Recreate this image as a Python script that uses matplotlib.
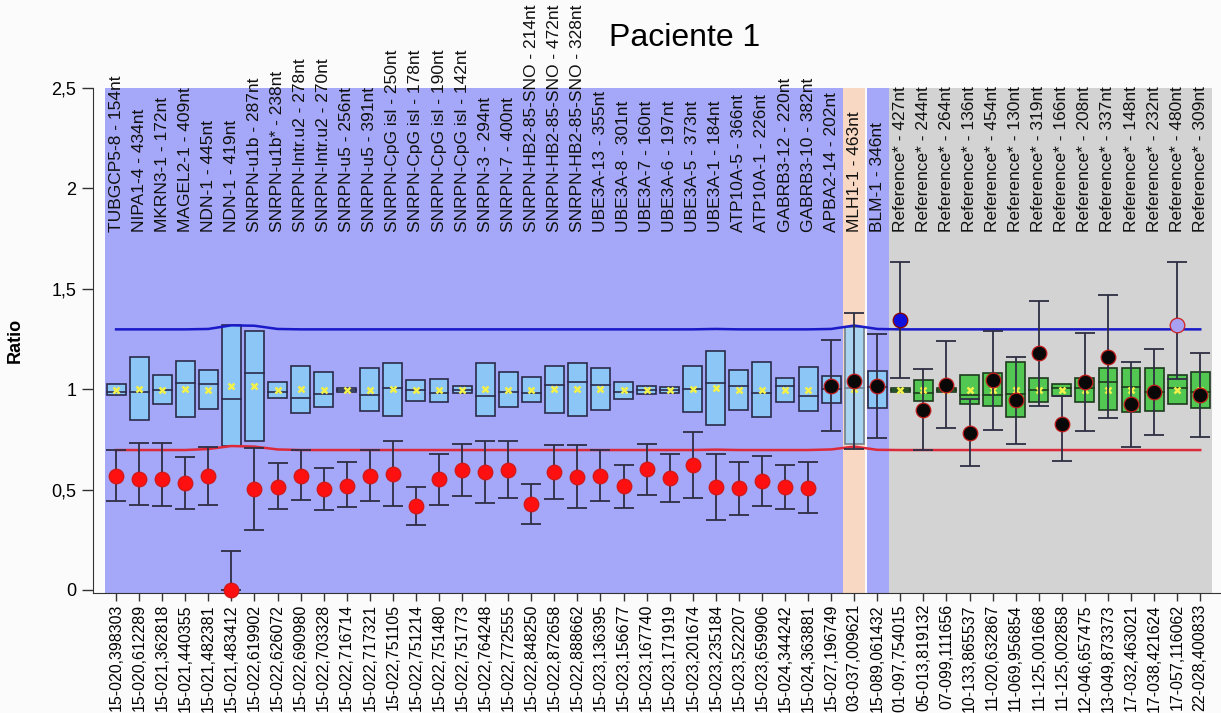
import matplotlib
matplotlib.use("Agg")
import matplotlib.pyplot as plt
from matplotlib.patches import Rectangle

plt.rcParams['font.family'] = ['Liberation Sans', 'DejaVu Sans']

probe_labels = [
    "TUBGCP5-8 - 154nt", "NIPA1-4 - 434nt", "MKRN3-1 - 172nt", "MAGEL2-1 - 409nt",
    "NDN-1 - 445nt", "NDN-1 - 419nt", "SNRPN-u1b - 287nt", "SNRPN-u1b* - 238nt",
    "SNRPN-Intr.u2 - 278nt", "SNRPN-Intr.u2 - 270nt", "SNRPN-u5 - 256nt", "SNRPN-u5 - 391nt",
    "SNRPN-CpG isl - 250nt", "SNRPN-CpG isl - 178nt", "SNRPN-CpG isl - 190nt", "SNRPN-CpG isl - 142nt",
    "SNRPN-3 - 294nt", "SNRPN-7 - 400nt", "SNRPN-HB2-85-SNO - 214nt", "SNRPN-HB2-85-SNO - 472nt",
    "SNRPN-HB2-85-SNO - 328nt", "UBE3A-13 - 355nt", "UBE3A-8 - 301nt", "UBE3A-7 - 160nt",
    "UBE3A-6 - 197nt", "UBE3A-5 - 373nt", "UBE3A-1 - 184nt", "ATP10A-5 - 366nt",
    "ATP10A-1 - 226nt", "GABRB3-12 - 220nt", "GABRB3-10 - 382nt", "APBA2-14 - 202nt",
    "MLH1-1 - 463nt", "BLM-1 - 346nt",
    "Reference* - 427nt", "Reference* - 244nt", "Reference* - 264nt", "Reference* - 136nt",
    "Reference* - 454nt", "Reference* - 130nt", "Reference* - 319nt", "Reference* - 166nt",
    "Reference* - 208nt", "Reference* - 337nt", "Reference* - 148nt", "Reference* - 232nt",
    "Reference* - 480nt", "Reference* - 309nt",
]

position_labels = [
    "15-020,398303", "15-020,612289", "15-021,362818", "15-021,440355", "15-021,482381",
    "15-021,483412", "15-022,619902", "15-022,626072", "15-022,690980", "15-022,703328",
    "15-022,716714", "15-022,717321", "15-022,751105", "15-022,751214", "15-022,751480",
    "15-022,751773", "15-022,764248", "15-022,772555", "15-022,848250", "15-022,872658",
    "15-022,888662", "15-023,136395", "15-023,156677", "15-023,167740", "15-023,171919",
    "15-023,201674", "15-023,235184", "15-023,522207", "15-023,659906", "15-024,344242",
    "15-024,363881", "15-027,196749", "03-037,009621", "15-089,061432", "01-097,754015",
    "05-013,819132", "07-099,111656", "10-133,865537", "11-020,632867", "11-069,956854",
    "11-125,001668", "11-125,002858", "12-046,657475", "13-049,873373", "17-032,463021",
    "17-038,421624", "17-057,116062", "22-028,400833",
]

box_low = [0.970, 0.845, 0.926, 0.861, 0.900, 0.719, 0.742, 0.956, 0.881, 0.911,
           0.988, 0.890, 0.867, 0.943, 0.938, 0.979, 0.867, 0.911, 0.935, 0.880,
           0.868, 0.895, 0.951, 0.975, 0.979, 0.885, 0.823, 0.898, 0.863, 0.938,
           0.890, 0.930, 0.727, 0.906, 0.984, 0.943, 0.984, 0.925, 0.916, 0.863,
           0.938, 0.966, 0.935, 0.895, 0.888, 0.893, 0.925, 0.906]
box_high = [1.024, 1.159, 1.069, 1.140, 1.096, 1.320, 1.288, 1.034, 1.116, 1.084,
            1.004, 1.106, 1.132, 1.046, 1.051, 1.014, 1.132, 1.087, 1.059, 1.117,
            1.130, 1.104, 1.038, 1.014, 1.011, 1.114, 1.189, 1.096, 1.135, 1.054,
            1.109, 1.064, 1.308, 1.092, 1.008, 1.048, 1.008, 1.069, 1.079, 1.135,
            1.056, 1.024, 1.056, 1.106, 1.106, 1.106, 1.069, 1.087]
box_median = [0.988, 0.984, 0.996, 1.029, 1.026, 0.950, 1.079, 0.984, 0.958, 0.976,
              0.996, 0.971, 1.008, 0.996, 0.979, 0.998, 0.966, 0.988, 0.979, 1.021,
              1.038, 1.023, 0.988, 0.996, 0.996, 0.999, 1.033, 1.018, 0.979, 1.014,
              0.966, 0.999, 1.008, 1.009, 0.996, 0.979, 0.996, 0.969, 0.971, 0.976,
              0.996, 1.004, 1.008, 1.034, 1.011, 0.988, 1.004, 0.984]
box_mean = [0.996, 0.999, 0.996, 0.999, 0.996, 1.016, 1.016, 0.996, 0.999, 0.996,
            0.996, 0.996, 1.002, 0.996, 0.996, 0.998, 0.999, 0.996, 0.996, 0.999,
            0.999, 0.999, 0.996, 0.996, 0.996, 0.999, 1.004, 0.996, 0.996, 0.996,
            0.996, 0.999, 1.000, 1.000, 0.996, 0.996, 0.996, 0.996, 0.996, 0.996,
            0.996, 0.996, 0.996, 0.996, 0.996, 0.996, 0.996, 0.996]

sample_ratio = [0.569, 0.553, 0.553, 0.534, 0.568, 0.000, 0.501, 0.515, 0.569, 0.501,
                0.520, 0.569, 0.578, 0.417, 0.551, 0.598, 0.586, 0.598, 0.428, 0.586,
                0.561, 0.569, 0.516, 0.601, 0.558, 0.623, 0.511, 0.506, 0.544, 0.513,
                0.510, 1.018, 1.041, 1.016, 1.345, 0.895, 1.021, 0.780, 1.044, 0.945,
                1.179, 0.825, 1.038, 1.162, 0.925, 0.984, 1.321, 0.971]
ci_low = [0.445, 0.423, 0.418, 0.405, 0.423, 0.000, 0.299, 0.402, 0.448, 0.398,
          0.412, 0.445, 0.418, 0.324, 0.422, 0.466, 0.432, 0.458, 0.329, 0.452,
          0.407, 0.442, 0.410, 0.471, 0.437, 0.458, 0.347, 0.373, 0.418, 0.402,
          0.382, 0.790, 0.701, 0.759, 1.054, 0.697, 0.805, 0.616, 0.795, 0.729,
          0.918, 0.644, 0.790, 0.858, 0.714, 0.774, 1.050, 0.764]
ci_high = [0.697, 0.730, 0.730, 0.664, 0.714, 0.194, 0.706, 0.634, 0.697, 0.609,
           0.636, 0.697, 0.742, 0.511, 0.679, 0.729, 0.740, 0.740, 0.526, 0.724,
           0.724, 0.697, 0.624, 0.729, 0.679, 0.788, 0.679, 0.637, 0.669, 0.624,
           0.637, 1.243, 1.378, 1.275, 1.633, 1.101, 1.238, 0.950, 1.291, 1.159,
           1.441, 0.966, 1.280, 1.469, 1.135, 1.199, 1.633, 1.180]

upper_limit = [1.298, 1.298, 1.298, 1.298, 1.300, 1.318, 1.316, 1.300, 1.298, 1.298,
               1.298, 1.298, 1.298, 1.298, 1.298, 1.298, 1.298, 1.298, 1.298, 1.298,
               1.298, 1.298, 1.298, 1.298, 1.298, 1.298, 1.300, 1.298, 1.298, 1.298,
               1.298, 1.300, 1.317, 1.300, 1.298, 1.298, 1.298, 1.298, 1.298, 1.298,
               1.298, 1.298, 1.298, 1.298, 1.298, 1.298, 1.298, 1.298]
lower_limit = [0.697, 0.697, 0.697, 0.697, 0.702, 0.717, 0.714, 0.700, 0.697, 0.697,
               0.697, 0.697, 0.697, 0.697, 0.697, 0.697, 0.697, 0.697, 0.697, 0.697,
               0.697, 0.697, 0.697, 0.697, 0.697, 0.697, 0.699, 0.697, 0.697, 0.697,
               0.697, 0.700, 0.714, 0.698, 0.697, 0.697, 0.697, 0.697, 0.697, 0.697,
               0.697, 0.697, 0.697, 0.697, 0.697, 0.697, 0.697, 0.697]

yticks = [0, 0.5, 1, 1.5, 2, 2.5]
ytick_labels = ["0", "0,5", "1", "1,5", "2", "2,5"]

n = len(probe_labels)
xs = list(range(n))

fig = plt.figure(figsize=(12.21, 7.13), dpi=100)
fig.patch.set_facecolor('#fbfbfb')
ax = fig.add_axes([93/1221, (713-593)/713, 1128/1221, 505/713])
ax.set_facecolor('#fbfbfb')
ax.set_xlim(-1, 47.9)
ax.set_ylim(-0.015, 2.5)

# background regions
ax.axvspan(-0.5, 31.5, color='#a5a7f8', lw=0, zorder=0)
ax.axvspan(31.5, 32.45, color='#f8d8c2', lw=0, zorder=0)
ax.axvspan(32.55, 33.5, color='#a5a7f8', lw=0, zorder=0)
ax.axvspan(33.5, 47.5, color='#d3d3d3', lw=0, zorder=0)

# boxes
w = 0.82
for i in xs:
    if i >= 34:
        fc, ec = '#52c852', '#1e3a1e'
    elif i == 32:
        fc, ec = '#a9d3ee', '#6f7f8f'
    else:
        fc, ec = '#8cc6f7', '#2a2a4a'
    ax.add_patch(Rectangle((i - w/2, box_low[i]), w, box_high[i] - box_low[i],
                           facecolor=fc, edgecolor=ec, lw=1.2, zorder=3))
    ax.plot([i - w/2, i + w/2], [box_median[i], box_median[i]], color=ec, lw=1.2, zorder=3.5)

ax.plot(xs, box_mean, linestyle='none', marker='x', color='#f2f24a',
        markersize=5, mew=1.8, zorder=4)

# threshold lines
ax.plot(xs, upper_limit, color='#1a1ac8', lw=1.8, zorder=5)
ax.plot(xs, lower_limit, color='#dd2a3a', lw=1.8, zorder=5)

# sample values with confidence intervals
for i in xs:
    ax.errorbar(i, sample_ratio[i],
                yerr=[[sample_ratio[i] - ci_low[i]], [ci_high[i] - sample_ratio[i]]],
                fmt='none', ecolor='#2e2e44', elinewidth=1.3, capsize=7.5, capthick=1.3,
                zorder=6)
    if i < 31:
        fc, ec = '#ff1010', '#d01818'
    elif i == 34:
        fc, ec = '#1010dd', '#880000'
    elif i == 46:
        fc, ec = '#a8a0f0', '#d02020'
    else:
        fc, ec = '#080808', '#c01a1a'
    ax.plot(i, sample_ratio[i], marker='o', markersize=10.5, markerfacecolor=fc,
            markeredgecolor=ec, mew=0.9, linestyle='none', zorder=7, clip_on=False)

# top probe labels
for i, lab in enumerate(probe_labels):
    ax.text(i, 1.783, lab, rotation=90, ha='center', va='bottom', fontsize=12.5,
            color='#111111', zorder=8, clip_on=False)

ax.set_yticks(yticks)
ax.set_yticklabels(ytick_labels, fontsize=13)
ax.set_xticks(xs)
ax.set_xticklabels(position_labels, rotation=90, fontsize=11.5)
ax.tick_params(axis='x', length=6, width=1, pad=2, color='#333333')
ax.tick_params(axis='y', length=8, width=1, pad=4, color='#333333')
for s in ['top', 'right']:
    ax.spines[s].set_visible(False)
for s in ['left', 'bottom']:
    ax.spines[s].set_color('#333333')

ax.set_ylabel('Ratio', fontsize=13, fontweight='bold', labelpad=20)
fig.text(685/1221, 1 - 38/713, 'Paciente 1', ha='center', va='center', fontsize=23)

fig.savefig('out.png', dpi=100, facecolor=fig.get_facecolor())
